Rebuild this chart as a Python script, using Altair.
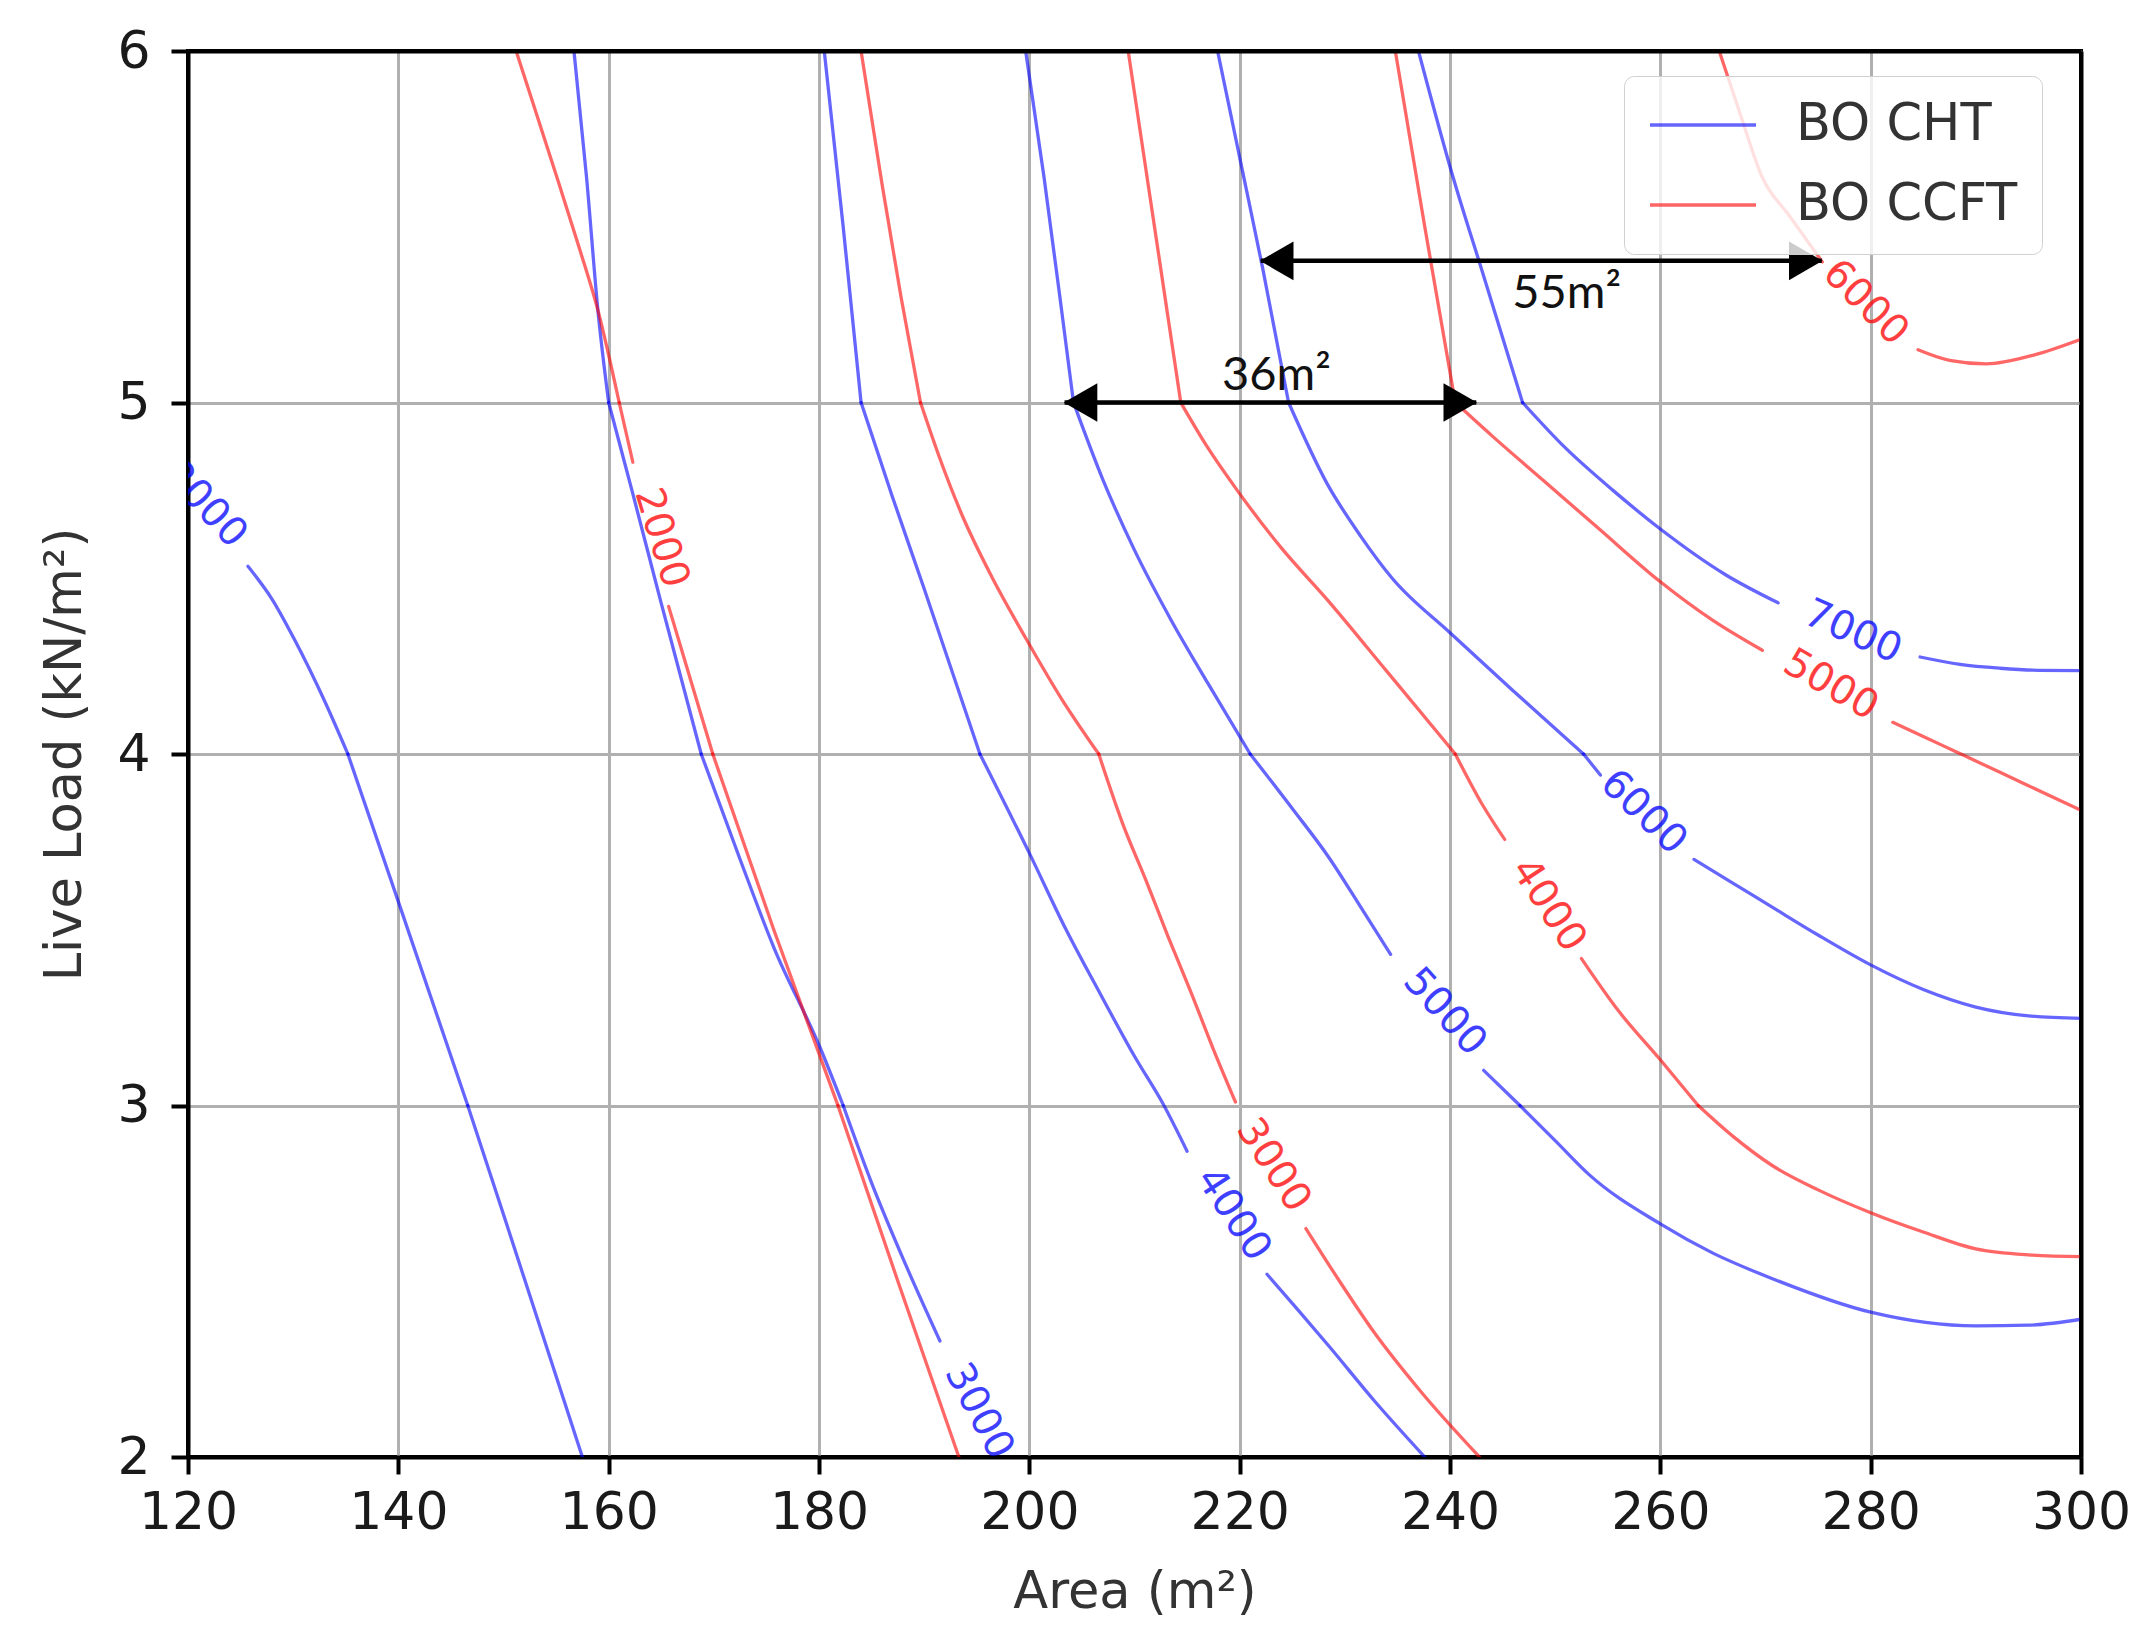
import altair as alt
import pandas as pd

# ---------------- BO CHT contour lines
# each inner list is one smooth piece; pieces meet at kinks (shared point) or stop at inline labels
cht_2000_x = [[125.7, 128.0, 130.1, 133.0, 135.2], [135.2, 140.0, 146.6], [146.6, 150.0, 157.5]]
cht_2000_y = [[4.534, 4.44, 4.327, 4.15, 4.0], [4.0, 3.58, 3.0], [3.0, 2.69, 2.0]]

cht_3000_x = [[156.7, 157.9, 159.0, 160.0], [160.0, 162.3, 164.9, 168.8],
              [168.8, 172.5, 175.7, 180.1, 182.3], [182.3, 185.0, 188.2, 191.5]]
cht_3000_y = [[6.0, 5.64, 5.255, 5.0], [5.0, 4.74, 4.44, 4.0],
              [4.0, 3.7, 3.45, 3.165, 3.0], [3.0, 2.78, 2.55, 2.33]]

cht_4000_x = [[180.5, 182.3, 184.0], [184.0, 187.0, 190.0, 195.3],
              [195.3, 200.0, 203.5, 206.7, 210.0, 212.8, 215.0],
              [222.6, 225.5, 228.5, 232.8, 237.6]]
cht_4000_y = [[6.0, 5.5, 5.0], [5.0, 4.73, 4.47, 4.0],
              [4.0, 3.718, 3.5, 3.32, 3.14, 3.0, 2.87],
              [2.52, 2.42, 2.315, 2.16, 2.0]]

cht_5000_x = [[199.65, 201.4, 203.1, 204.2], [204.2, 207.0, 210.0, 213.5, 217.0, 221.0],
              [221.0, 225.0, 228.5, 231.5, 234.35],
              [243.2, 246.65], [246.65, 250.0, 253.2, 260.0, 265.0, 270.6, 280.0, 290.0, 295.0, 300.0]]
cht_5000_y = [[6.0, 5.64, 5.255, 5.0], [5.0, 4.78, 4.58, 4.38, 4.2, 4.0],
              [4.0, 3.845, 3.705, 3.565, 3.43],
              [3.1, 3.0], [3.0, 2.9, 2.804, 2.663, 2.58, 2.508, 2.412, 2.373, 2.375, 2.392]]

cht_6000_x = [[217.9, 220.4, 222.2, 224.65], [224.65, 228.3, 231.5, 234.5, 240.0, 246.0, 252.7],
              [252.7, 254.3],
              [263.2, 266.5, 270.6, 275.0, 280.0, 285.0, 290.0, 295.0, 300.0]]
cht_6000_y = [[6.0, 5.64, 5.38, 5.0], [5.0, 4.77, 4.62, 4.50, 4.345, 4.18, 4.0],
              [4.0, 3.94],
              [3.70, 3.64, 3.565, 3.485, 3.40, 3.33, 3.28, 3.255, 3.248]]

cht_7000_x = [[237.0, 240.3, 243.2, 246.9], [246.9, 251.0, 255.5, 260.0, 266.2, 271.2],
              [284.7, 288.5, 292.3, 296.0, 300.0]]
cht_7000_y = [[6.0, 5.64, 5.36, 5.0], [5.0, 4.87, 4.75, 4.64, 4.51, 4.43],
              [4.276, 4.255, 4.244, 4.238, 4.237]]

# ---------------- BO CCFT contour lines
ccft_2000_x = [[151.2, 153.2, 155.3, 157.2, 159.0, 161.0], [161.0, 162.3],
               [165.7, 167.8, 169.9], [169.9, 175.7, 181.8], [181.8, 187.5, 193.3]]
ccft_2000_y = [[6.0, 5.815, 5.62, 5.44, 5.26, 5.0], [5.0, 4.83],
               [4.42, 4.21, 4.0], [4.0, 3.50, 3.0], [3.0, 2.5, 2.0]]

ccft_3000_x = [[184.0, 186.0, 187.8, 189.65], [189.65, 191.5, 193.6, 196.5, 199.65, 203.0, 206.6],
               [206.6, 208.9, 211.1, 213.2, 215.4, 217.5, 219.6],
               [226.3, 229.5, 232.8, 237.2, 242.8]]
ccft_3000_y = [[6.0, 5.62, 5.3, 5.0], [5.0, 4.84, 4.68, 4.5, 4.33, 4.16, 4.0],
               [4.0, 3.8, 3.64, 3.48, 3.32, 3.16, 3.01],
               [2.65, 2.5, 2.354, 2.187, 2.0]]

ccft_4000_x = [[209.4, 211.9, 214.4], [214.4, 217.0, 219.65, 224.0, 228.3, 234.0, 240.5],
               [240.5, 243.0, 245.2],
               [252.5, 256.0, 260.0, 263.6],
               [263.6, 267.0, 270.6, 275.0, 280.0, 285.0, 290.0, 295.0, 300.0]]
ccft_4000_y = [[6.0, 5.5, 5.0], [5.0, 4.87, 4.755, 4.585, 4.44, 4.235, 4.0],
               [4.0, 3.86, 3.757],
               [3.418, 3.27, 3.13, 3.0],
               [3.0, 2.91, 2.83, 2.76, 2.695, 2.64, 2.592, 2.575, 2.57]]

ccft_5000_x = [[234.8, 237.6, 240.5], [240.5, 244.0, 248.8, 254.0, 260.0, 265.0, 269.7],
               [282.1, 285.0, 288.0, 290.0, 295.0, 300.0]]
ccft_5000_y = [[6.0, 5.5, 5.0], [5.0, 4.905, 4.78, 4.645, 4.49, 4.38, 4.295],
               [4.09, 4.05, 4.008, 3.98, 3.91, 3.84]]

ccft_6000_x = [[265.6, 267.6, 269.7, 272.3, 275.4], [284.5, 287.5, 291.0, 295.5, 300.0]]
ccft_6000_y = [[6.0, 5.82, 5.64, 5.53, 5.40], [5.15, 5.12, 5.11, 5.135, 5.18]]

# ---------------- inline contour labels
cht_label_text = ["2000", "3000", "4000", "5000", "6000", "7000"]
cht_label_x = [121.6, 195.2, 219.4, 239.5, 258.4, 278.3]
cht_label_y = [4.71, 2.13, 2.69, 3.266, 3.834, 4.347]
cht_label_angle = [47, 62, 57, 48, 44, 24]

ccft_label_text = ["2000", "3000", "4000", "5000", "6000"]
ccft_label_x = [165.0, 223.2, 249.35, 276.2, 279.5]
ccft_label_y = [4.615, 2.83, 3.57, 4.196, 5.284]
ccft_label_angle = [73, 57, 57, 30, 45]

# ---------------- annotation arrows
arrow_text = ["36m²", "55m²"]
arrow_y = [5.0, 5.403]
arrow_x1 = [203.35, 222.0]
arrow_x2 = [242.5, 275.35]
arrow_text_x = [223.5, 251.1]
arrow_text_y = [5.036, 5.27]

x_ticks = [120, 140, 160, 180, 200, 220, 240, 260, 280, 300]
y_ticks = [2, 3, 4, 5, 6]

SERIES = ["BO CHT", "BO CCFT"]
COLORS = ["#0000ff", "#ff0000"]

# ---------------- build tables
rows = []
def add(series, level, xs, ys):
    for s, (sx, sy) in enumerate(zip(xs, ys)):
        for i, (a, b) in enumerate(zip(sx, sy)):
            rows.append(dict(series=series, seg=f"{series}-{level}-{s}", order=i, x=a, y=b))

add("BO CHT", 2000, cht_2000_x, cht_2000_y)
add("BO CHT", 3000, cht_3000_x, cht_3000_y)
add("BO CHT", 4000, cht_4000_x, cht_4000_y)
add("BO CHT", 5000, cht_5000_x, cht_5000_y)
add("BO CHT", 6000, cht_6000_x, cht_6000_y)
add("BO CHT", 7000, cht_7000_x, cht_7000_y)
add("BO CCFT", 2000, ccft_2000_x, ccft_2000_y)
add("BO CCFT", 3000, ccft_3000_x, ccft_3000_y)
add("BO CCFT", 4000, ccft_4000_x, ccft_4000_y)
add("BO CCFT", 5000, ccft_5000_x, ccft_5000_y)
add("BO CCFT", 6000, ccft_6000_x, ccft_6000_y)
lines_df = pd.DataFrame(rows)

labels_df = pd.DataFrame(
    [dict(series="BO CHT", text=t, x=a, y=b, angle=g)
     for t, a, b, g in zip(cht_label_text, cht_label_x, cht_label_y, cht_label_angle)]
    + [dict(series="BO CCFT", text=t, x=a, y=b, angle=g)
       for t, a, b, g in zip(ccft_label_text, ccft_label_x, ccft_label_y, ccft_label_angle)]
)

arrows_df = pd.DataFrame(dict(text=arrow_text, y=arrow_y, x1=arrow_x1, x2=arrow_x2,
                              tx=arrow_text_x, ty=arrow_text_y))

FONT = "DejaVu Sans"
xscale = alt.Scale(domain=[120, 300], nice=False, zero=False)
yscale = alt.Scale(domain=[2, 6], nice=False, zero=False)

x_axis = alt.Axis(values=x_ticks, title="Area (m²)", format="d",
                  grid=True, gridColor="#b0b0b0", gridWidth=3,
                  domainColor="black", domainWidth=4,
                  tickColor="black", tickWidth=4, tickSize=17,
                  labelFont=FONT, labelFontSize=52, labelColor="#1a1a1a", labelPadding=13,
                  labelFlush=False, labelOverlap=False,
                  titleFont=FONT, titleFontSize=51, titleFontWeight="normal", titleColor="#333333",
                  titleY=135, titleBaseline="middle")
y_axis = alt.Axis(values=y_ticks, title="Live Load (kN/m²)", format="d",
                  grid=True, gridColor="#b0b0b0", gridWidth=3,
                  domainColor="black", domainWidth=4,
                  tickColor="black", tickWidth=4, tickSize=17,
                  labelFont=FONT, labelFontSize=52, labelColor="#1a1a1a", labelPadding=21,
                  labelFlush=False, labelOverlap=False,
                  titleFont=FONT, titleFontSize=51, titleFontWeight="normal", titleColor="#333333",
                  titleX=-123, titleBaseline="middle")
# plain frame on the top and right sides
top_axis = alt.Axis(orient="top", labels=False, ticks=False, grid=False, title=None,
                    domainColor="black", domainWidth=4, zindex=1)
right_axis = alt.Axis(orient="right", labels=False, ticks=False, grid=False, title=None,
                      domainColor="black", domainWidth=4, zindex=1)

lines = alt.Chart(lines_df).mark_line(strokeWidth=3.3, opacity=0.6, clip=True,
                                      interpolate="monotone", strokeCap="round").encode(
    x=alt.X("x:Q", scale=xscale, axis=x_axis),
    y=alt.Y("y:Q", scale=yscale, axis=y_axis),
    color=alt.Color("series:N", scale=alt.Scale(domain=SERIES, range=COLORS),
                    legend=alt.Legend(title=None, orient="none", legendX=1436, legendY=25,
                                      labelFont=FONT, labelFontSize=51, labelColor="#333333",
                                      labelLimit=0,
                                      symbolType="stroke", symbolSize=11236, symbolStrokeWidth=3.3,
                                      symbolOpacity=0.6, clipHeight=50, rowPadding=29,
                                      labelOffset=38, padding=24,
                                      fillColor="rgba(255,255,255,0.8)", strokeColor="#d0d0d0",
                                      cornerRadius=10, zindex=1)),
    detail="seg:N",
    order="order:Q",
)

labels = alt.Chart(labels_df).mark_text(font=FONT, fontSize=40, opacity=0.75, clip=True,
                                        align="center", baseline="middle").encode(
    x=alt.X("x:Q", scale=xscale, axis=None),
    y=alt.Y("y:Q", scale=yscale, axis=None),
    text="text:N",
    angle=alt.Angle("angle:Q", scale=None),
    fill=alt.Fill("series:N", scale=alt.Scale(domain=SERIES, range=COLORS), legend=None),
)

shafts = alt.Chart(arrows_df).mark_rule(strokeWidth=4.5, color="black").encode(
    x=alt.X("x1:Q", scale=xscale, axis=top_axis), x2="x2:Q",
    y=alt.Y("y:Q", scale=yscale, axis=right_axis))
left_heads = alt.Chart(arrows_df).mark_point(shape="triangle-left", filled=True, size=1500,
                                             color="black", opacity=1, xOffset=16).encode(
    x=alt.X("x1:Q", scale=xscale, axis=None), y=alt.Y("y:Q", scale=yscale, axis=None))
right_heads = alt.Chart(arrows_df).mark_point(shape="triangle-right", filled=True, size=1500,
                                              color="black", opacity=1, xOffset=-16).encode(
    x=alt.X("x2:Q", scale=xscale, axis=None), y=alt.Y("y:Q", scale=yscale, axis=None))
notes = alt.Chart(arrows_df).mark_text(font="Lato", fontSize=47, color="#111111",
                                       align="center", baseline="alphabetic").encode(
    x=alt.X("tx:Q", scale=xscale, axis=None), y=alt.Y("ty:Q", scale=yscale, axis=None),
    text="text:N")

chart = alt.layer(lines, labels, shafts, left_heads, right_heads, notes).resolve_axis(
    x="independent", y="independent"
).properties(
    width=1893, height=1406,
    autosize=alt.AutoSizeParams(type="none"),
    padding={"left": 180, "top": 43, "right": 50, "bottom": 170},
    background="white",
).configure_view(stroke="black", strokeWidth=4)

chart.save("out.html", embed_options={"renderer": "svg", "actions": False})
